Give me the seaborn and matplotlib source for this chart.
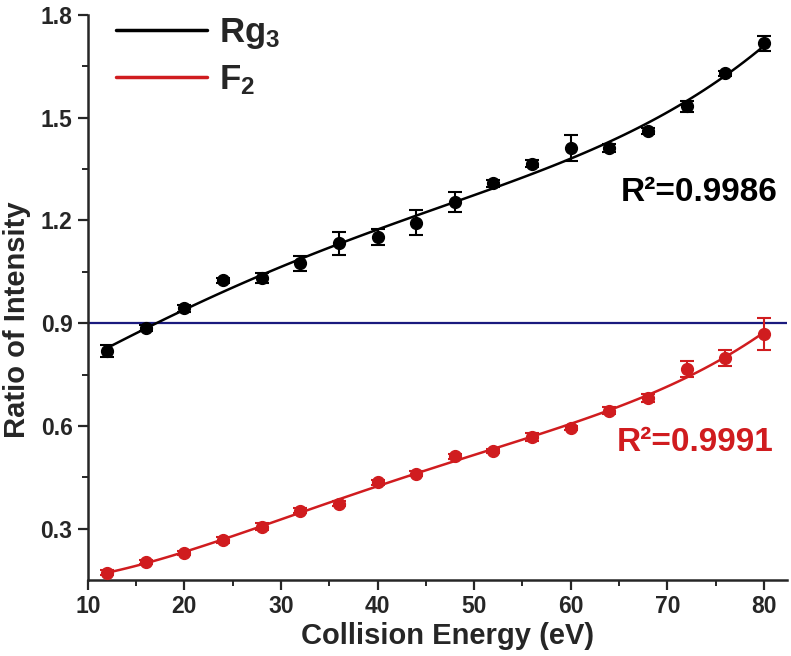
import numpy as np
import pandas as pd
import seaborn as sns
from matplotlib import pyplot as plt

# collision energies (eV)
energy = [12, 16, 20, 24, 28, 32, 36, 40, 44, 48, 52, 56, 60, 64, 68, 72, 76, 80]

# ratio of intensity, Rg3
rg3 = [0.818, 0.886, 0.943, 1.025, 1.031, 1.075, 1.133, 1.152, 1.194, 1.254,
       1.309, 1.366, 1.412, 1.412, 1.461, 1.533, 1.630, 1.718]
rg3_err = [0.018, 0.008, 0.010, 0.008, 0.015, 0.022, 0.034, 0.024, 0.037, 0.030,
           0.010, 0.010, 0.038, 0.012, 0.008, 0.015, 0.008, 0.022]

# ratio of intensity, F2
f2 = [0.171, 0.202, 0.229, 0.266, 0.305, 0.352, 0.373, 0.435, 0.460, 0.511,
      0.527, 0.567, 0.595, 0.644, 0.681, 0.766, 0.798, 0.868]
f2_err = [0.008, 0.006, 0.006, 0.008, 0.010, 0.008, 0.008, 0.008, 0.007, 0.008,
          0.006, 0.012, 0.006, 0.010, 0.012, 0.024, 0.024, 0.046]

r2_labels = ["R\u00b2=0.9986", "R\u00b2=0.9991"]
threshold = 0.9

df = pd.DataFrame({'energy': energy, 'rg3': rg3, 'f2': f2})

sns.set_style('ticks')
plt.rcParams['font.family'] = ['Liberation Sans', 'DejaVu Sans']
plt.rcParams['font.weight'] = 'bold'
plt.rcParams['mathtext.fontset'] = 'custom'
plt.rcParams['mathtext.rm'] = 'Liberation Sans:bold'
plt.rcParams['mathtext.it'] = 'Liberation Sans:bold'
plt.rcParams['mathtext.bf'] = 'Liberation Sans:bold'

black = '#000000'
red = '#d01c1f'
navy = '#1a1a7e'

fig = plt.figure(figsize=(7.91, 6.56), dpi=100)
ax = fig.add_axes([0.111, 0.116, 0.884, 0.861])

# threshold line
ax.axhline(threshold, color=navy, lw=1.6, zorder=1)

# fitted curves
sns.regplot(data=df, x='energy', y='rg3', order=4, ci=None, scatter=False,
            line_kws={'color': black, 'lw': 1.8}, ax=ax, label='Rg$_3$')
sns.regplot(data=df, x='energy', y='f2', order=4, ci=None, scatter=False,
            line_kws={'color': red, 'lw': 1.8}, ax=ax, label='F$_2$')

# data points with error bars
ax.errorbar(energy, rg3, yerr=rg3_err, fmt='o', color=black, ms=8.5,
            capsize=5, elinewidth=1.5, capthick=1.5, zorder=3)
ax.errorbar(energy, f2, yerr=f2_err, fmt='o', color=red, ms=8.5,
            capsize=5, elinewidth=1.5, capthick=1.5, zorder=3)

ax.text(81.4, 1.281, r2_labels[0], color=black, fontsize=24, fontweight='bold',
        ha='right', va='center')
ax.text(81.0, 0.551, r2_labels[1], color=red, fontsize=24, fontweight='bold',
        ha='right', va='center')

ax.set_xlim(10, 82.4)
ax.set_ylim(0.15, 1.8)
ax.set_xticks(range(10, 81, 10))
ax.set_xticks(range(15, 81, 10), minor=True)
ax.set_yticks([0.3, 0.6, 0.9, 1.2, 1.5, 1.8])
ax.set_yticks([0.45, 0.75, 1.05, 1.35, 1.65], minor=True)
ax.set_yticklabels(['0.3', '0.6', '0.9', '1.2', '1.5', '1.8'])

ax.tick_params(which='major', length=7, width=1.6, labelsize=16.5, direction='out')
ax.tick_params(which='minor', length=4, width=1.4, direction='out')
ax.tick_params(axis='x', which='major', pad=4)
ax.tick_params(axis='y', which='major', pad=4)
for lab in ax.get_xticklabels() + ax.get_yticklabels():
    lab.set_fontweight('bold')

sns.despine(ax=ax)
ax.spines['left'].set_linewidth(1.8)
ax.spines['bottom'].set_linewidth(1.8)

ax.set_xlabel('Collision Energy (eV)', fontsize=21, fontweight='bold')
ax.xaxis.set_label_coords(0.514, -0.0745)
ax.set_ylabel('Ratio of Intensity', fontsize=21, fontweight='bold')
ax.yaxis.set_label_coords(-0.0815, 0.46)

leg = ax.legend(loc='upper left', frameon=False, fontsize=25, handlelength=2.6,
                handletextpad=0.35, borderaxespad=0.2, labelspacing=0.35,
                bbox_to_anchor=(0.011, 1.035))
for line in leg.get_lines():
    line.set_linewidth(2.5)

fig.savefig('out.png', dpi=100)
